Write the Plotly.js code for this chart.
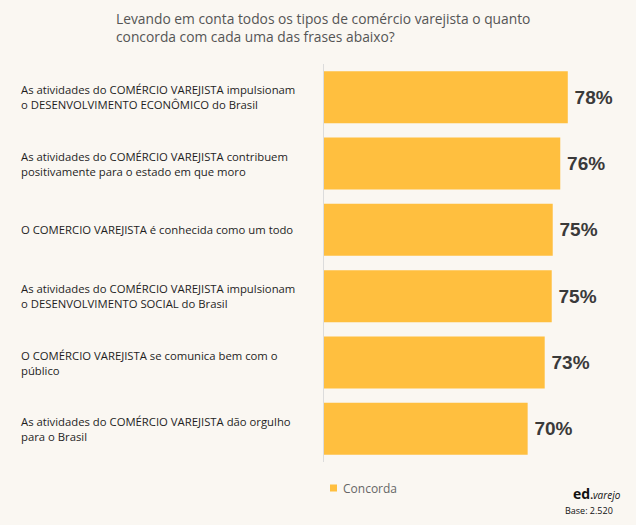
<!DOCTYPE html>
<html>
<head>
<meta charset="utf-8">
<script src="https://cdn.plot.ly/plotly-3.0.1.min.js"></script>
<style>html,body{margin:0;padding:0;background:#faf7f2;}</style>
</head>
<body>
<div id="chart" style="width:636px;height:525px;"></div>
<script>
const categories = [
  "As atividades do COMÉRCIO VAREJISTA impulsionam<br>o DESENVOLVIMENTO ECONÔMICO do Brasil",
  "As atividades do COMÉRCIO VAREJISTA contribuem<br>positivamente para o estado em que moro",
  "O COMERCIO VAREJISTA é conhecida como um todo",
  "As atividades do COMÉRCIO VAREJISTA impulsionam<br>o DESENVOLVIMENTO SOCIAL do Brasil",
  "O COMÉRCIO VAREJISTA se comunica bem com o<br>público",
  "As atividades do COMÉRCIO VAREJISTA dão orgulho<br>para o Brasil"
];
const concorda = [78, 76.5, 75, 74.8, 73.4, 70];
const valueLabels = ["78%", "76%", "75%", "75%", "73%", "70%"];
const seriesName = "Concorda";
const titleText = "Levando em conta todos os tipos de comércio varejista o quanto<br>concorda com cada uma das frases abaixo?";
const baseText = "Base: 2.520";

const ids = categories.map((c, i) => "c" + i);
const W = 312, H = 398; // plot area size in px

const trace = {
  type: "bar",
  orientation: "h",
  y: ids,
  x: concorda,
  name: seriesName,
  showlegend: false,
  marker: {color: "#ffbf3f"},
  width: 0.785,
  text: valueLabels.map(t => "\u2009" + t),
  textposition: "outside",
  cliponaxis: false,
  textfont: {family: "Liberation Sans, Arial, sans-serif", size: 19, color: "#3a3a3a", weight: "bold"},
  hoverinfo: "none"
};

const annotations = categories.map((c, i) => ({
  xref: "paper", yref: "y",
  x: -305.5 / W, y: ids[i],
  xanchor: "left", yanchor: "middle", align: "left",
  text: c, showarrow: false,
  font: {family: "Open Sans, sans-serif", size: 11.3, color: "#1e1e1e"}
}));

annotations.push({
  xref: "paper", yref: "paper", x: -210 / W, y: 1 + 57 / H,
  xanchor: "left", yanchor: "top", align: "left",
  text: titleText, showarrow: false,
  font: {family: "Open Sans, sans-serif", size: 13.8, color: "#555555"}
});
annotations.push({
  xref: "paper", yref: "paper", x: 1 - 13 / W, y: -31 / H,
  xanchor: "right", yanchor: "middle", align: "right",
  text: "<b>ed</b><span style='font-size:10px'><b>.</b><i>varejo</i></span>", showarrow: false,
  font: {family: "Open Sans, sans-serif", size: 14, color: "#111111"}
});
annotations.push({
  xref: "paper", yref: "paper", x: 1 - 21 / W, y: -48 / H,
  xanchor: "right", yanchor: "middle", align: "right",
  text: baseText, showarrow: false,
  font: {family: "Open Sans, sans-serif", size: 9, color: "#111111"}
});
// legend entry
annotations.push({
  xref: "paper", yref: "paper", x: 17 / W, y: -26 / H,
  xanchor: "left", yanchor: "middle", align: "left",
  text: seriesName, showarrow: false,
  font: {family: "Open Sans, sans-serif", size: 12, color: "#666666"}
});

const shapes = [{
  type: "rect", xref: "paper", yref: "paper",
  x0: 6 / W, x1: 13 / W, y0: -22.5 / H, y1: -29.5 / H,
  fillcolor: "#ffbf3f", line: {width: 0}
}];

const layout = {
  width: 636, height: 525,
  margin: {l: 324, r: 0, t: 64, b: 63, pad: 0},
  paper_bgcolor: "#faf7f2",
  plot_bgcolor: "#faf7f2",
  showlegend: false,
  xaxis: {range: [29.4, 91.6], showgrid: false, zeroline: false, showticklabels: false, showline: false, fixedrange: true},
  yaxis: {autorange: "reversed", showticklabels: false, showgrid: false, zeroline: false,
          showline: true, linecolor: "#dcdcdc", linewidth: 1, ticks: ""},
  annotations: annotations,
  shapes: shapes,
  bargap: 0.2
};

Plotly.newPlot("chart", [trace], layout, {displayModeBar: false, staticPlot: true});
</script>
</body>
</html>
